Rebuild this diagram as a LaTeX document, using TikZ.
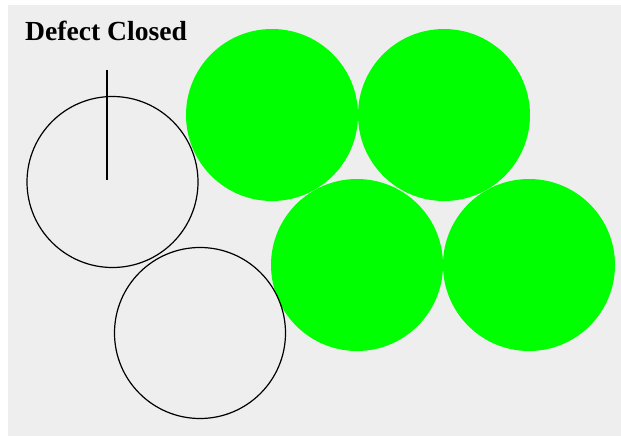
\documentclass[tikz,border=0pt]{standalone}
\usepackage{fontspec}
\setmainfont{Liberation Serif}
\definecolor{bg}{RGB}{238,238,238}
\definecolor{grn}{RGB}{0,255,0}
\begin{document}
\begin{tikzpicture}[x=1pt,y=-1pt,
  hole/.style={circle,draw=black,line width=1.2pt,minimum size=171pt,inner sep=0pt},
  plug/.style={circle,fill=grn,minimum size=172pt,inner sep=0pt}]
\useasboundingbox (0,0) rectangle (621,436);
\fill[white] (0,0) rectangle (621,436);
\fill[bg] (8,5) rectangle (621,436);
\node[plug] (g1) at (272,115) {};
\node[plug] (g2) at (444,115) {};
\node[plug] (g3) at (357,265) {};
\node[plug] (g4) at (529,265) {};
\node[hole] (c1) at (112.5,182) {};
\node[hole] (c2) at (200,333) {};
\coordinate (t) at (107,70);
\coordinate (b) at (107,180);
\draw[line width=1.2pt] (t) -- (b);
\node[anchor=base west,inner sep=0pt,font=\fontsize{27.6}{32}\selectfont\bfseries] (title) at (25,41) {Defect Closed};
\end{tikzpicture}
\end{document}
